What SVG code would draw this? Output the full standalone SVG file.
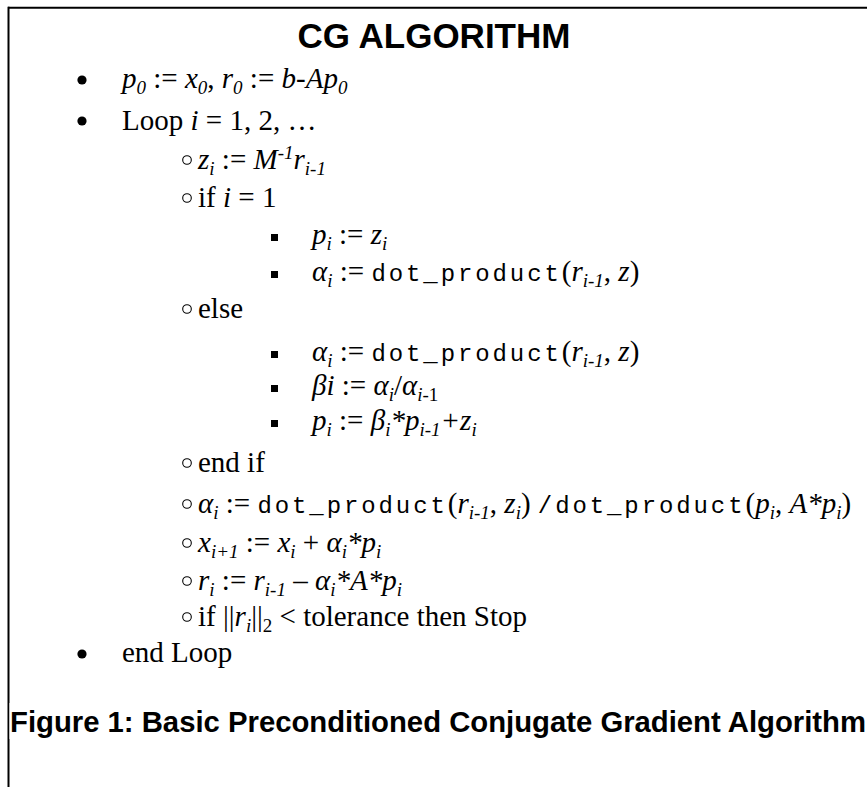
<svg xmlns="http://www.w3.org/2000/svg" width="867" height="787" viewBox="0 0 867 787">
<style>
.t{font-family:"Liberation Serif","Times New Roman",serif;font-size:29px;fill:#000}
.i{font-style:italic}
.s{font-size:19px}
.m{font-family:"Liberation Mono","Courier New",monospace;font-size:24px;letter-spacing:2.9px}
.h{font-family:"Liberation Sans",Arial,sans-serif;font-weight:bold;fill:#000}
.b1{fill:#000}
.b2{fill:none;stroke:#000;stroke-width:1.1}
.b3{fill:#000}
</style>
<rect x="0" y="0" width="867" height="787" fill="#fff"/>
<g id="frame">
<line x1="8" y1="7.7" x2="867" y2="7.7" stroke="#000" stroke-width="2"/>
<line x1="8.5" y1="6.7" x2="8.5" y2="787" stroke="#000" stroke-width="2"/>
</g>
<g id="title"><text class="h" x="434" y="48" font-size="35" text-anchor="middle">CG ALGORITHM</text></g>
<g id="line1"><circle class="b1" cx="82" cy="80" r="4.6"/>
<text class="t i" x="122" y="88">p<tspan class="s" baseline-shift="-6">0</tspan> <tspan font-style="normal">:=</tspan> x<tspan class="s" baseline-shift="-6">0</tspan><tspan font-style="normal">,</tspan> r<tspan class="s" baseline-shift="-6">0</tspan> <tspan font-style="normal">:=</tspan> b-Ap<tspan class="s" baseline-shift="-6">0</tspan></text></g>
<g id="line2"><circle class="b1" cx="82" cy="121" r="4.6"/>
<text class="t" x="122" y="130">Loop <tspan class="i">i</tspan> = 1, 2, …</text></g>
<g id="line3"><circle class="b2" cx="187" cy="160" r="4.3"/>
<text class="t i" x="198" y="169">z<tspan class="s" baseline-shift="-6">i</tspan> <tspan font-style="normal">:=</tspan> M<tspan class="s" baseline-shift="10">-1</tspan>r<tspan class="s" baseline-shift="-6">i-1</tspan></text></g>
<g id="line4"><circle class="b2" cx="187" cy="198" r="4.3"/>
<text class="t" x="198" y="207">if <tspan class="i">i</tspan> = 1</text></g>
<g id="line5"><rect class="b3" x="271" y="234" width="7" height="7"/>
<text class="t i" x="312" y="244">p<tspan class="s" baseline-shift="-6">i</tspan> <tspan font-style="normal">:=</tspan> z<tspan class="s" baseline-shift="-6">i</tspan></text></g>
<g id="line6"><rect class="b3" x="271" y="271" width="7" height="7"/>
<text class="t" x="312" y="281"><tspan class="i">α</tspan><tspan class="s i" baseline-shift="-6">i</tspan> := <tspan class="m">dot_product</tspan>(<tspan class="i">r</tspan><tspan class="s i" baseline-shift="-6">i-1</tspan>, <tspan class="i">z</tspan>)</text></g>
<g id="line7"><circle class="b2" cx="187" cy="309" r="4.3"/>
<text class="t" x="198" y="318">else</text></g>
<g id="line8"><rect class="b3" x="271" y="351" width="7" height="7"/>
<text class="t" x="312" y="361"><tspan class="i">α</tspan><tspan class="s i" baseline-shift="-6">i</tspan> := <tspan class="m">dot_product</tspan>(<tspan class="i">r</tspan><tspan class="s i" baseline-shift="-6">i-1</tspan>, <tspan class="i">z</tspan>)</text></g>
<g id="line9"><rect class="b3" x="271" y="385" width="7" height="7"/>
<text class="t" x="312" y="395"><tspan class="i">βi</tspan> := <tspan class="i">α</tspan><tspan class="s i" baseline-shift="-6">i</tspan>/<tspan class="i">α</tspan><tspan class="s" baseline-shift="-6"><tspan class="i">i</tspan>-1</tspan></text></g>
<g id="line10"><rect class="b3" x="271" y="420" width="7" height="7"/>
<text class="t i" x="312" y="430">p<tspan class="s" baseline-shift="-6">i</tspan> <tspan font-style="normal">:=</tspan> β<tspan class="s" baseline-shift="-6">i</tspan>*p<tspan class="s" baseline-shift="-6">i-1</tspan>+z<tspan class="s" baseline-shift="-6">i</tspan></text></g>
<g id="line11"><circle class="b2" cx="187" cy="463" r="4.3"/>
<text class="t" x="198" y="472">end if</text></g>
<g id="line12"><circle class="b2" cx="187" cy="504" r="4.3"/>
<text class="t" x="198" y="513"><tspan class="i">α</tspan><tspan class="s i" baseline-shift="-6">i</tspan> := <tspan class="m">dot_product</tspan>(<tspan class="i">r</tspan><tspan class="s i" baseline-shift="-6">i-1</tspan>, <tspan class="i">z</tspan><tspan class="s i" baseline-shift="-6">i</tspan>) <tspan class="m">/dot_product</tspan>(<tspan class="i">p</tspan><tspan class="s i" baseline-shift="-6">i</tspan>, <tspan class="i">A*p</tspan><tspan class="s i" baseline-shift="-6">i</tspan>)</text></g>
<g id="line13"><circle class="b2" cx="187" cy="543" r="4.3"/>
<text class="t i" x="198" y="552">x<tspan class="s" baseline-shift="-6">i+1</tspan> <tspan font-style="normal">:=</tspan> x<tspan class="s" baseline-shift="-6">i</tspan> <tspan font-style="normal">+</tspan> α<tspan class="s" baseline-shift="-6">i</tspan>*p<tspan class="s" baseline-shift="-6">i</tspan></text></g>
<g id="line14"><circle class="b2" cx="187" cy="581" r="4.3"/>
<text class="t i" x="198" y="590">r<tspan class="s" baseline-shift="-6">i</tspan> <tspan font-style="normal">:=</tspan> r<tspan class="s" baseline-shift="-6">i-1</tspan> <tspan font-style="normal">–</tspan> α<tspan class="s" baseline-shift="-6">i</tspan>*A*p<tspan class="s" baseline-shift="-6">i</tspan></text></g>
<g id="line15"><circle class="b2" cx="187" cy="617" r="4.3"/>
<text class="t" x="198" y="626">if ||<tspan class="i">r</tspan><tspan class="s i" baseline-shift="-6">i</tspan>||<tspan class="s" baseline-shift="-6">2</tspan> &lt; tolerance then Stop</text></g>
<g id="line16"><circle class="b1" cx="82" cy="654" r="4.6"/>
<text class="t" x="122" y="662">end Loop</text></g>
<g id="caption"><rect x="9.5" y="703" width="857" height="36" fill="#fff"/>
<text class="h" x="10" y="732" font-size="29" textLength="856" lengthAdjust="spacingAndGlyphs">Figure 1: Basic Preconditioned Conjugate Gradient Algorithm</text></g>
</svg>
